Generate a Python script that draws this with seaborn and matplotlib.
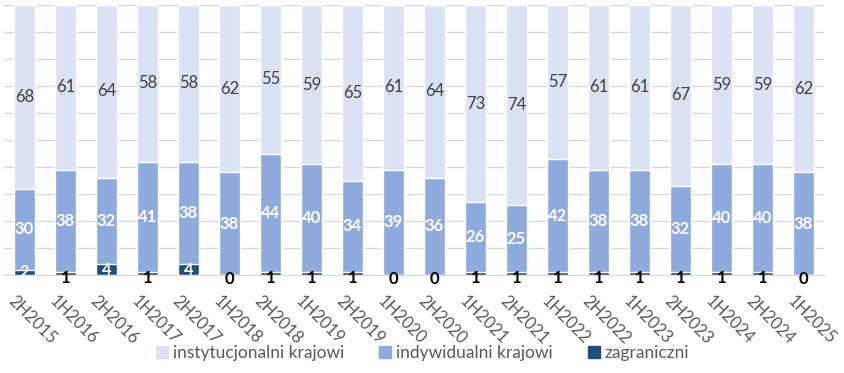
import numpy as np
import pandas as pd
import matplotlib
matplotlib.use("Agg")
import matplotlib.pyplot as plt
import matplotlib.transforms as mtransforms
import seaborn as sns
from matplotlib.patches import Patch

periods = ['2H2015', '1H2016', '2H2016', '1H2017', '2H2017', '1H2018', '2H2018',
           '1H2019', '2H2019', '1H2020', '2H2020', '1H2021', '2H2021', '1H2022',
           '2H2022', '1H2023', '2H2023', '1H2024', '2H2024', '1H2025']
zagraniczni = [2, 1, 4, 1, 4, 0, 1, 1, 1, 0, 0, 1, 1, 1, 1, 1, 1, 1, 1, 0]
indywidualni = [30, 38, 32, 41, 38, 38, 44, 40, 34, 39, 36, 26, 25, 42, 38, 38, 32, 40, 40, 38]
instytucjonalni = [68, 61, 64, 58, 58, 62, 55, 59, 65, 61, 64, 73, 74, 57, 61, 61, 67, 59, 59, 62]

c_inst = '#dae3f3'
c_ind = '#8faadc'
c_zag = '#1f4e79'

df = pd.DataFrame({'period': periods, 'zag': zagraniczni,
                   'ind': indywidualni, 'inst': instytucjonalni})
df['lvl1'] = df['zag']
df['lvl2'] = df['zag'] + df['ind']
df['lvl3'] = df['lvl2'] + df['inst']

sns.set_style('white')
plt.rcParams['font.family'] = ['Lato', 'DejaVu Sans']

fig = plt.figure(figsize=(8.45, 3.73), dpi=100)
ax = fig.add_axes([4 / 845, 1 - 275 / 373, 820 / 845, 270 / 373])

w = 0.53
sns.barplot(data=df, x='period', y='lvl3', color=c_inst, width=w, ax=ax, saturation=1)
sns.barplot(data=df, x='period', y='lvl2', color=c_ind, width=w, ax=ax, saturation=1)
sns.barplot(data=df, x='period', y='lvl1', color=c_zag, width=w, ax=ax, saturation=1)

ax.set_ylim(0, 100)
ax.set_xlim(-0.5, len(periods) - 0.5)
ax.set_yticks(np.arange(0, 101, 10))
ax.set_yticklabels([])
ax.tick_params(axis='y', length=0)
ax.tick_params(axis='x', length=0, pad=13)
ax.yaxis.grid(True, color='#d9d9d9', linewidth=1)
ax.set_axisbelow(True)
for s in ['top', 'right', 'left']:
    ax.spines[s].set_visible(False)
ax.spines['bottom'].set_color('#d9d9d9')
ax.set_xlabel('')
ax.set_ylabel('')

ax.set_xticks(range(len(periods)))
ax.set_xticklabels(periods, rotation=-45, ha='left', rotation_mode='anchor',
                   fontsize=12, color='#595959')
shift = mtransforms.ScaledTranslation(-8 / 100, 0, fig.dpi_scale_trans)
for lab in ax.get_xticklabels():
    lab.set_transform(lab.get_transform() + shift)

for i, r in df.iterrows():
    ax.text(i, r['lvl2'] + r['inst'] / 2, str(r['inst']), ha='center', va='center',
            fontsize=12, color='#404040')
    ax.text(i, r['lvl1'] + r['ind'] / 2, str(r['ind']), ha='center', va='center',
            fontsize=12, color='white', fontweight='bold')
    if r['zag'] >= 2:
        ax.text(i, r['zag'] / 2, str(r['zag']), ha='center', va='center',
                fontsize=12, color='white', fontweight='bold', clip_on=False)
    else:
        ax.text(i, r['zag'] / 2 - 1.5, str(r['zag']), ha='center', va='center',
                fontsize=12, color='black', fontweight='bold', clip_on=False)

handles = [Patch(color=c_inst), Patch(color=c_ind), Patch(color=c_zag)]
labels = ['instytucjonalni krajowi', 'indywidualni krajowi', 'zagraniczni']
fig.legend(handles, labels, loc='center', bbox_to_anchor=(0.5, 1 - 353 / 373),
           ncol=3, frameon=False, fontsize=12.5, labelcolor='#595959',
           handlelength=0.7, handleheight=0.7, handletextpad=0.3, columnspacing=2.0)

fig.savefig('out.png', dpi=100)
